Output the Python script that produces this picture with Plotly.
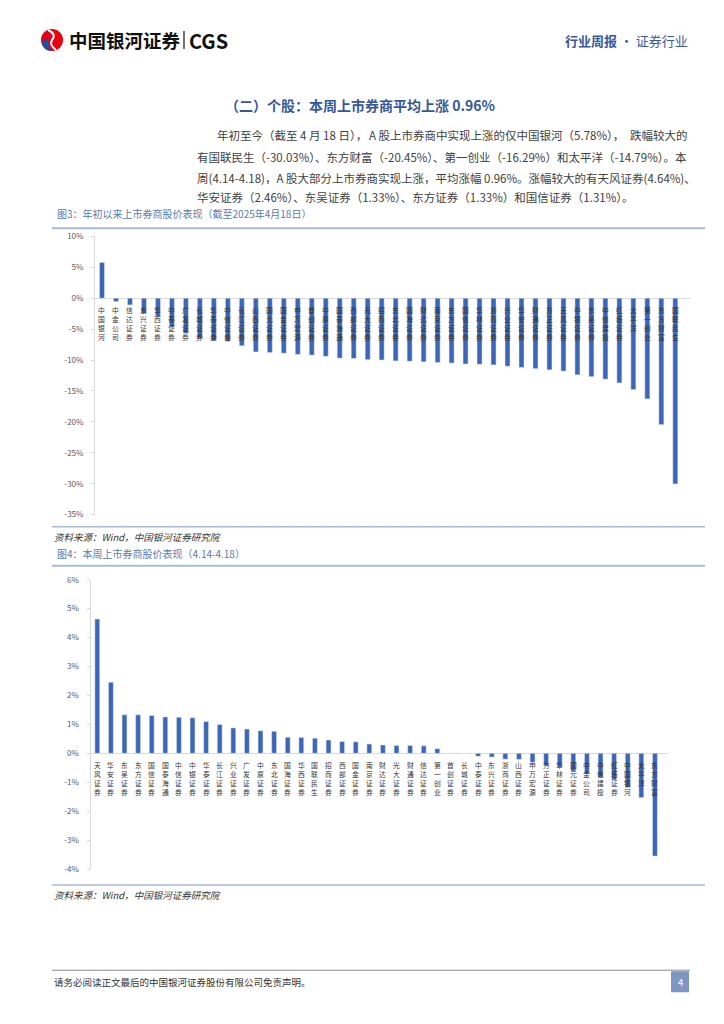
import plotly.graph_objects as go

W, H = 724, 1024

# ---------------- data ----------------
c1_names = ["中国银河", "中金公司", "信达证券", "东兴证券", "华西证券", "中泰证券", "广发证券",
            "长城证券", "华泰证券", "中信证券", "长江证券", "山西证券", "国元证券", "国金证券",
            "申万宏源", "首创证券", "中原证券", "国泰海通", "西部证券", "光大证券", "招商证券",
            "东北证券", "国海证券", "财达证券", "南京证券", "东方证券", "国信证券", "华林证券",
            "浙商证券", "兴业证券", "华安证券", "财通证券", "方正证券", "天风证券", "中银证券",
            "东吴证券", "中信建投", "红塔证券", "太平洋", "第一创业", "东方财富", "国联民生"]
c1_vals = [5.78, -0.55, -1.1, -2.5, -3.0, -4.7, -5.7, -6.5, -6.9, -7.0, -7.7, -8.7, -8.8, -8.9,
           -9.1, -9.2, -9.4, -9.7, -9.75, -9.95, -10.0, -10.15, -10.2, -10.3, -10.4, -10.5, -10.65,
           -10.7, -10.8, -11.0, -11.2, -11.4, -11.6, -11.8, -12.4, -12.7, -13.1, -13.7, -14.79,
           -16.29, -20.45, -30.03]

c2_names = ["天风证券", "华安证券", "东吴证券", "东方证券", "国信证券", "国泰海通", "中信证券",
            "中银证券", "华泰证券", "长江证券", "兴业证券", "广发证券", "中原证券", "东北证券",
            "国海证券", "华西证券", "国联民生", "招商证券", "西部证券", "国金证券", "南京证券",
            "财达证券", "光大证券", "财通证券", "信达证券", "第一创业", "首创证券", "长城证券",
            "中泰证券", "东兴证券", "浙商证券", "山西证券", "申万宏源", "方正证券", "华林证券",
            "国元证券", "中金公司", "中信建投", "红塔证券", "中国银河", "太平洋", "东方财富"]
c2_vals = [4.64, 2.46, 1.33, 1.33, 1.31, 1.26, 1.25, 1.23, 1.10, 1.00, 0.88, 0.84, 0.78, 0.76,
           0.56, 0.55, 0.52, 0.46, 0.41, 0.40, 0.32, 0.29, 0.27, 0.27, 0.26, 0.16, 0.01, 0.0,
           -0.10, -0.13, -0.20, -0.21, -0.31, -0.43, -0.48, -0.62, -0.71, -0.83, -0.92, -1.18,
           -1.53, -3.55]

c1_ticks = [10, 5, 0, -5, -10, -15, -20, -25, -30, -35]
c2_ticks = [6, 5, 4, 3, 2, 1, 0, -1, -2, -3, -4]

FONT = "Noto Sans CJK SC"
BAR = "#3d66b6"
AXC = "#d9d9d9"
CAP = "#5a78b0"
LINEC = "#a9b9d4"

# vertical calibration of the page photograph
Y_OFF, Y_SCALE = 6.0, 0.988


def px(x):
    return x / W


def py(y):
    return 1 - ((y - Y_OFF) / Y_SCALE) / H


fig = go.Figure()
fig.add_trace(go.Bar(x=c1_names, y=c1_vals, marker_color=BAR, width=0.36,
                     xaxis="x", yaxis="y", showlegend=False))
fig.add_trace(go.Bar(x=c2_names, y=c2_vals, marker_color=BAR, width=0.36,
                     xaxis="x2", yaxis="y2", showlegend=False))

ann = []
shapes = []

for n in c1_names:
    ann.append(dict(x=n, y=0, xref="x", yref="y", text="<br>".join(n), showarrow=False,
                    yanchor="top", xanchor="center", yshift=-5,
                    font=dict(size=6.8, color="#333333", family=FONT)))
for n in c2_names:
    ann.append(dict(x=n, y=0, xref="x2", yref="y2", text="<br>".join(n), showarrow=False,
                    yanchor="top", xanchor="center", yshift=-5,
                    font=dict(size=6.8, color="#333333", family=FONT)))


def text(x, y, s, size, color="#333333", xanchor="left", bold=False, italic=False):
    if bold:
        s = "<b>" + s + "</b>"
    if italic:
        s = "<i>" + s + "</i>"
    ann.append(dict(x=px(x), y=py(y), xref="paper", yref="paper", text=s, showarrow=False,
                    xanchor=xanchor, yanchor="middle",
                    font=dict(size=size, color=color, family=FONT)))


def hline(x0, x1, y, color, width):
    shapes.append(dict(type="line", xref="paper", yref="paper", x0=px(x0), x1=px(x1),
                       y0=py(y), y1=py(y), line=dict(color=color, width=width)))


def path(pts_cmd, fill, line_color=None, width=0):
    parts = []
    for c in pts_cmd:
        if isinstance(c, str):
            parts.append(c)
        else:
            parts.append(f"{px(c[0]):.5f},{py(c[1]):.5f}")
    shapes.append(dict(type="path", xref="paper", yref="paper", path=" ".join(parts),
                       fillcolor=fill, line=dict(color=line_color or fill, width=width)))


# ---------------- header ----------------
shapes.append(dict(type="circle", xref="paper", yref="paper", x0=px(41), x1=px(63),
                   y0=py(51), y1=py(29), fillcolor="#e60012", line=dict(width=0)))
path(["M", (41.5, 42), "Q", (43, 51), (52, 51), "Q", (47, 46), (49, 40), "Q", (46, 39), (41.5, 42), "Z"],
     "#1f4e9e")
path(["M", (48, 30), "Q", (57, 34), (52, 40), "Q", (49, 45), (56, 50)], "rgba(0,0,0,0)", "white", 2)
text(67, 40, "中国银河证券", 18.5, "#111111", bold=True)
shapes.append(dict(type="line", xref="paper", yref="paper", x0=px(184), x1=px(184),
                   y0=py(31), y1=py(49), line=dict(color="#111111", width=1.2)))
text(187, 40, "CGS", 20, "#111111", bold=True)
text(690, 40, "<b>行业周报</b> · 证券行业", 13, "#3a5898", xanchor="right")

# ---------------- title & body ----------------
text(360, 105, "（二）个股：本周上市券商平均上涨 0.96%", 14, "#35579b", xanchor="center", bold=True)
BODY_C = "#404040"
text(215, 135, "年初至今（截至 4 月 18 日），", 11.5, BODY_C)
text(367, 135, "A 股上市券商中实现上涨的仅中国银河（5.78%），", 11.5, BODY_C)
text(690, 135, "跌幅较大的", 11.5, BODY_C, xanchor="right")
text(195, 157, "有国联民生（-30.03%）、东方财富（-20.45%）、第一创业（-16.29%）和太平洋（-14.79%）。本",
     11.5, BODY_C)
text(195, 178, "周(4.14-4.18)，A 股大部分上市券商实现上涨，平均涨幅 0.96%。涨幅较大的有天风证券(4.64%)、",
     11.5, BODY_C)
text(195, 197, "华安证券（2.46%）、东吴证券（1.33%）、东方证券（1.33%）和国信证券（1.31%）。", 11.5, BODY_C)

# ---------------- captions, rules, sources ----------------
text(55, 213, "图3：年初以来上市券商股价表现（截至2025年4月18日）", 10, CAP)
hline(52, 705, 228, LINEC, 2)
hline(52, 705, 526, LINEC, 1.5)
text(52, 536, "资料来源：Wind，中国银河证券研究院", 9.5, "#333333", italic=True)
text(55, 553, "图4：本周上市券商股价表现（4.14-4.18）", 10, CAP)
hline(52, 705, 565, LINEC, 2)
hline(52, 705, 884, LINEC, 1.5)
text(52, 894, "资料来源：Wind，中国银河证券研究院", 9.5, "#333333", italic=True)

# ---------------- footer ----------------
hline(52, 690, 969, "#8a8a8a", 1)
text(52, 981, "请务必阅读正文最后的中国银河证券股份有限公司免责声明。", 9.5, "#333333")
shapes.append(dict(type="rect", xref="paper", yref="paper", x0=px(671), x1=px(689),
                   y0=py(991), y1=py(970), fillcolor="#7f95c2", line=dict(width=0)))
text(680, 981, "4", 9.5, "white", xanchor="center")

# ---------------- axes ----------------
x1d = [px(95), px(690)]
y1d = [py(514), py(236)]
x2d = [px(90.5), px(668)]
y2d = [py(868), py(579)]

fig.update_layout(
    width=W, height=H, margin=dict(l=0, r=0, t=0, b=0),
    paper_bgcolor="white", plot_bgcolor="rgba(0,0,0,0)",
    font=dict(family=FONT), bargap=0.6,
    xaxis=dict(domain=x1d, anchor="y", range=[-0.5, 42.05], showticklabels=False,
               showgrid=False, zeroline=False, showline=False),
    yaxis=dict(domain=y1d, anchor="x", range=[-35, 10], tickvals=c1_ticks,
               ticktext=[f"{v}%" for v in c1_ticks], showgrid=False, zeroline=True,
               zerolinecolor=AXC, zerolinewidth=1, showline=True, linecolor=AXC,
               ticks="outside", ticklen=3, tickcolor=AXC, ticklabelstandoff=6,
               tickfont=dict(size=8, color="#595959", family=FONT)),
    xaxis2=dict(domain=x2d, anchor="y2", range=[-0.5, 41.96], showticklabels=False,
                showgrid=False, zeroline=False, showline=False),
    yaxis2=dict(domain=y2d, anchor="x2", range=[-4, 6], tickvals=c2_ticks,
                ticktext=[f"{v}%" for v in c2_ticks], showgrid=False, zeroline=True,
                zerolinecolor=AXC, zerolinewidth=1, showline=True, linecolor=AXC,
                ticks="outside", ticklen=3, tickcolor=AXC, ticklabelstandoff=6,
                tickfont=dict(size=8, color="#595959", family=FONT)),
    annotations=ann, shapes=shapes,
)

fig.write_html(
    "out.html",
    config={"displayModeBar": False},
    post_script=("document.documentElement.style.margin='0';"
                 "document.documentElement.style.padding='0';"
                 "document.documentElement.style.overflow='hidden';"
                 "document.body.style.margin='0';document.body.style.padding='0';"
                 "document.body.style.overflow='hidden';"),
)
